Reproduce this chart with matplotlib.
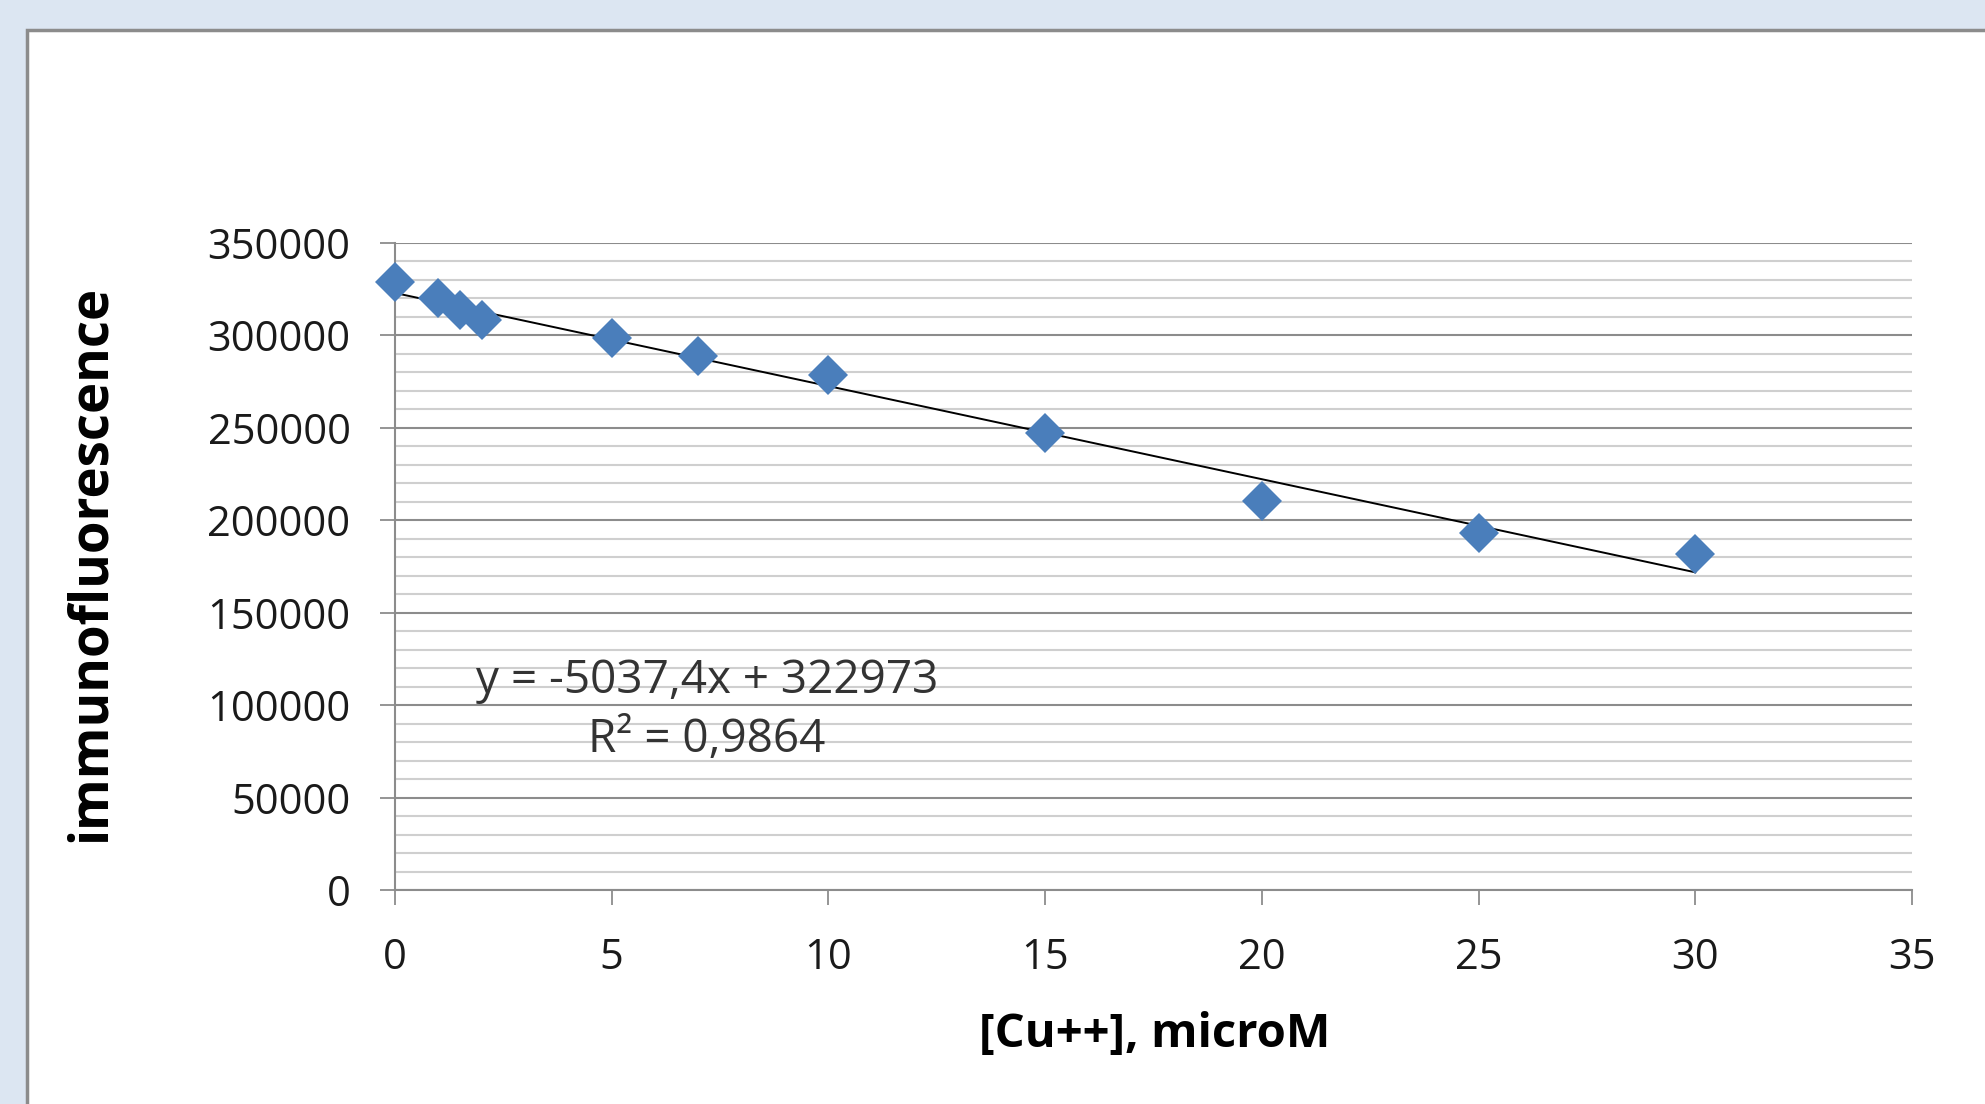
import numpy as np
import matplotlib
matplotlib.use('Agg')
import matplotlib.pyplot as plt
from matplotlib.patches import Rectangle
from matplotlib.ticker import MultipleLocator

plt.rcParams['font.family'] = ['Open Sans', 'DejaVu Sans']

# copper concentration (microM) and measured immunofluorescence
cu_conc = [0, 1, 1.5, 2, 5, 7, 10, 15, 20, 25, 30]
fluor = [329000, 320500, 313700, 308200, 298600, 289000, 278800, 247300, 210300, 193100, 181500]

# linear trendline as given on the chart
slope = -5037.4
intercept = 322973
trend_x = [0, 30]
eq_label = 'y = -5037,4x + 322973\nR² = 0,9864'

x_ticks = [0, 5, 10, 15, 20, 25, 30, 35]
y_ticks = [0, 50000, 100000, 150000, 200000, 250000, 300000, 350000]

fig = plt.figure(figsize=(19.85, 11.04), dpi=100)
fig.patch.set_facecolor('#dce6f2')

# white chart panel with grey border (only top/left edges visible)
panel = Rectangle((27 / 1985, -0.2), 1.2, 1.2 - 30 / 1104, transform=fig.transFigure,
                  facecolor='white', edgecolor='#8c8c8c', linewidth=2.5, zorder=-10)
fig.patches.append(panel)

ax = fig.add_axes([395 / 1985, 1 - 890 / 1104, 1517 / 1985, 647 / 1104])
ax.set_facecolor('white')

ax.set_xlim(0, 35)
ax.set_ylim(0, 350000)
ax.set_xticks(x_ticks)
ax.set_yticks(y_ticks)
ax.yaxis.set_minor_locator(MultipleLocator(10000))

ax.grid(axis='y', which='major', color='#8c8c8c', linewidth=1.5, zorder=0)
ax.grid(axis='y', which='minor', color='#cfcfcf', linewidth=1.5, zorder=0)
ax.set_axisbelow(True)

for side in ['top', 'right']:
    ax.spines[side].set_visible(False)
for side in ['left', 'bottom']:
    ax.spines[side].set_color('#8c8c8c')
    ax.spines[side].set_linewidth(1.5)

ax.tick_params(axis='both', which='major', direction='out', length=11, width=1.3,
               color='#8c8c8c', labelsize=30, labelcolor='#1a1a1a')
ax.tick_params(axis='y', pad=21)
ax.tick_params(axis='x', pad=23)
ax.tick_params(axis='y', which='minor', length=0)

tx = np.array(trend_x)
ax.plot(tx, slope * tx + intercept, color='black', linewidth=1.4, zorder=2)
ax.plot(cu_conc, fluor, linestyle='none', marker='D', markersize=20,
        color='#4a7ebb', markeredgewidth=0, zorder=3, clip_on=False)

ax.text(7.2, 97000, eq_label, fontsize=33, color='#333333', ha='center', va='center',
        multialignment='center', linespacing=1.36)

ax.set_xlabel('[Cu++], microM', fontsize=34, fontweight='bold', va='center')
ax.set_ylabel('immunofluorescence', fontsize=38, fontweight='bold', va='center')
ax.xaxis.set_label_coords(0.501, -0.224)
ax.yaxis.set_label_coords(-0.2004, 0.505)

fig.savefig('out.png', dpi=100, facecolor=fig.get_facecolor())
